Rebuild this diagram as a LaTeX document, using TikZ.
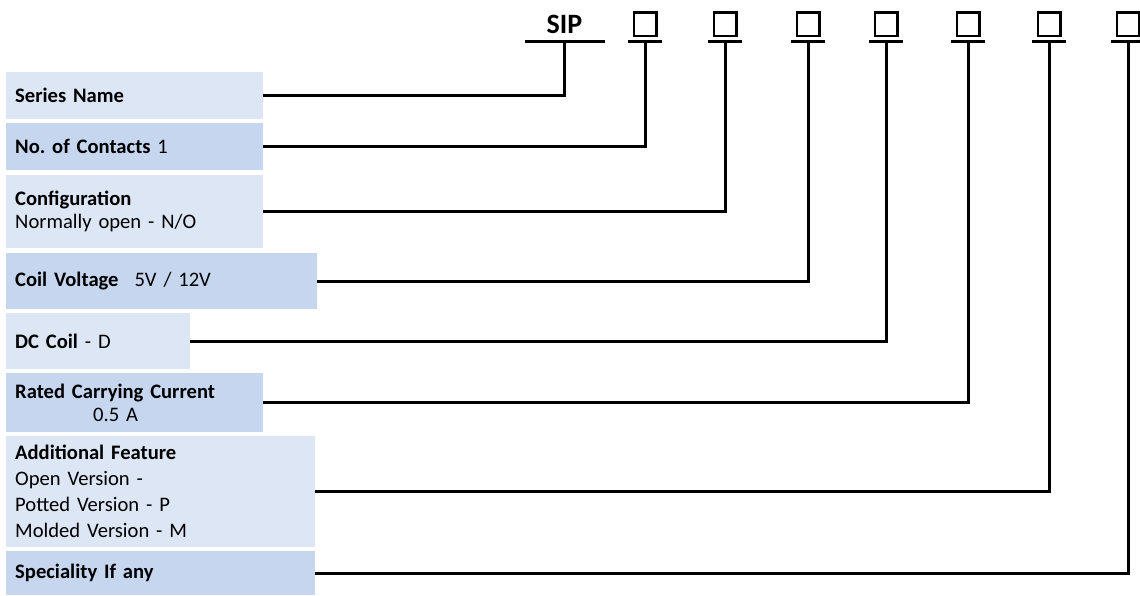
\documentclass[tikz,border=0pt]{standalone}
\usepackage{fontspec}
\setmainfont{Carlito}
\definecolor{lightbox}{HTML}{DCE6F4}
\definecolor{darkbox}{HTML}{C6D6EF}
\begin{document}
\begin{tikzpicture}[x=1pt,y=-1pt,
  lbl/.style={anchor=north west, inner xsep=9pt, inner ysep=0pt, align=left,
    font=\fontsize{20.6}{23}\selectfont, text=black},
  lightlbl/.style={lbl, fill=lightbox},
  darklbl/.style={lbl, fill=darkbox},
  conn/.style={line width=3pt},
  sqbox/.style={draw, line width=2.5pt, minimum width=22.5pt, minimum height=23.5pt, inner sep=0pt},
  tickbar/.style={line width=3pt}]
\useasboundingbox (0,0) rectangle (1140,595);

% code header
\node[font=\fontsize{28}{32}\selectfont\bfseries, inner sep=0pt] (sip) at (564.5,24.5) {SIP};
\draw[tickbar] (525,41) -- (605,41);
\coordinate (t0) at (564,41);

\foreach \i/\x in {1/645,2/725,3/808,4/886,5/968,6/1049,7/1128}{
  \node[sqbox] (sq\i) at (\x,24) {};
  \draw[tickbar] (\x-17,41) -- (\x+17,41);
  \coordinate (t\i) at (\x,41);
}

% label boxes
\node[lightlbl, minimum width=257pt, text width=239pt, minimum height=47pt] (b1) at (6,72)
  {\textbf{Series Name}};
\node[darklbl, minimum width=257pt, text width=239pt, minimum height=47pt] (b2) at (6,123)
  {\textbf{No.\ of Contacts} 1};
\node[lightlbl, minimum width=257pt, text width=239pt, minimum height=73pt] (b3) at (6,175)
  {\textbf{Configuration}\\Normally open - N/O};
\node[darklbl, minimum width=311pt, text width=293pt, minimum height=56pt] (b4) at (6,253)
  {\textbf{Coil Voltage}\hspace{16pt}5V / 12V};
\node[lightlbl, minimum width=184pt, text width=166pt, minimum height=56pt] (b5) at (6,313)
  {\textbf{DC Coil} - D};
\node[darklbl, minimum width=257pt, text width=239pt, minimum height=59pt] (b6) at (6,373)
  {\textbf{Rated Carrying Current}\\\hspace*{78pt}0.5 A};
\node[lightlbl, minimum width=309pt, text width=291pt, minimum height=111pt,
  font=\fontsize{20.6}{26}\selectfont] (b7) at (6,436)
  {\textbf{Additional Feature}\\Open Version -\\Potted Version - P\\Molded Version - M};
\node[darklbl, minimum width=309pt, text width=291pt, minimum height=44pt] (b8) at (6,551)
  {\textbf{Speciality If any}};

% connectors
\draw[conn] (b1.east) -| (t0);
\draw[conn] (b2.east) -| (t1);
\draw[conn] (b3.east) -| (t2);
\draw[conn] (b4.east) -| (t3);
\draw[conn] (b5.east) -| (t4);
\draw[conn] (b6.east) -| (t5);
\draw[conn] (b7.east) -| (t6);
\draw[conn] (b8.east) -| (t7);
\end{tikzpicture}
\end{document}
